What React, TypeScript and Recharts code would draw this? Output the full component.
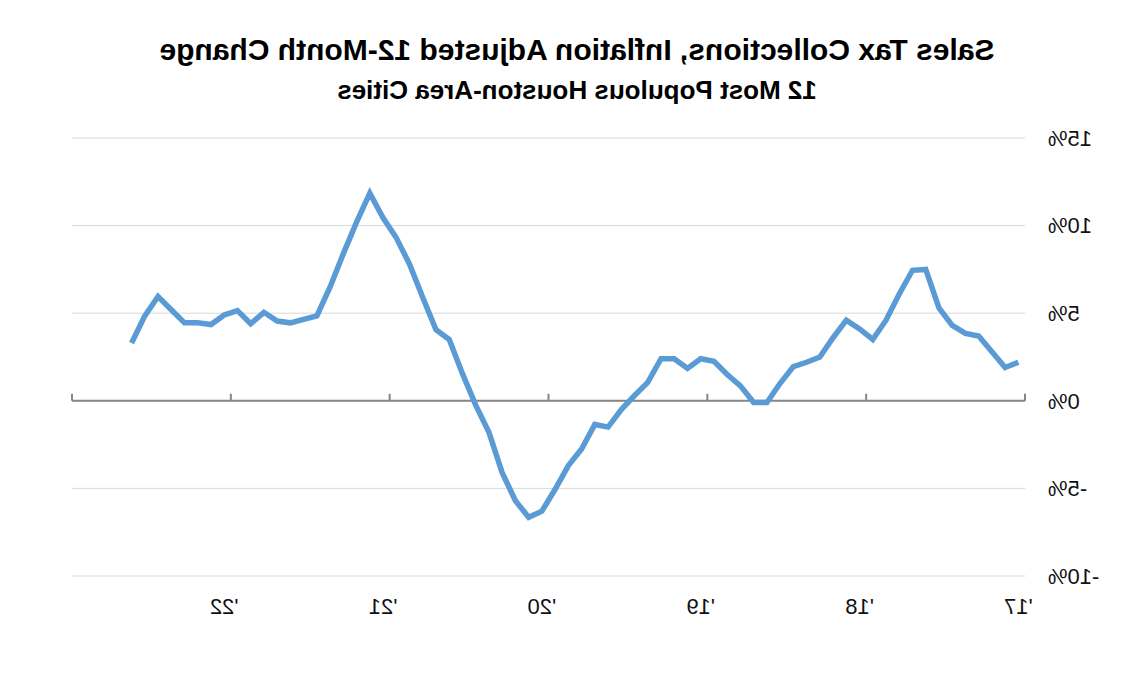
import { LineChart, Line, XAxis, YAxis, CartesianGrid, ReferenceLine } from 'recharts'

// monthly categories, Jan 2017 .. Dec 2022 (index 0..71)
const YEAR_LABELS = ["'17", "'18", "'19", "'20", "'21", "'22"]
const YEAR_STARTS = [0, 12, 24, 36, 48, 60]
const YEAR_BOUNDS = [-0.5, 11.5, 23.5, 35.5, 47.5, 59.5, 71.5]
const Y_TICKS = [-10, -5, 0, 5, 10, 15]

// 12-month change (%), Jan 2017 .. Aug 2022
const CHANGE = [
  2.2, 1.9, 2.8, 3.7, 3.85, 4.3, 5.3, 7.5, 7.45, 6.1, 4.6, 3.5,
  4.1, 4.6, 3.6, 2.5, 2.2, 1.95, 1.0, -0.1, -0.1, 0.85, 1.5, 2.25,
  2.4, 1.85, 2.4, 2.4, 1.05, 0.3, -0.5, -1.5, -1.35, -2.75, -3.7, -5.05,
  -6.3, -6.65, -5.7, -4.1, -1.8, -0.25, 1.55, 3.5, 4.05, 5.9, 7.8, 9.3,
  10.45, 11.85, 10.2, 8.4, 6.5, 4.85, 4.65, 4.45, 4.55, 5.05, 4.4, 5.15,
  4.9, 4.35, 4.45, 4.45, 5.2, 5.95, 4.85, 3.3,
]

const TITLE = 'Sales Tax Collections, Inflation Adjusted 12-Month Change'
const SUBTITLE = '12 Most Populous Houston-Area Cities'

const data = CHANGE.map((v, i) => ({ idx: i, change: v }))

const font = '"Liberation Sans", Arial, sans-serif'

export default function App() {
  return (
    // the reference is a mirror image, so the whole chart is flipped
    <div
      style={{
        position: 'absolute', left: 0, top: 0, width: 1139, height: 674,
        background: '#fff', transform: 'scaleX(-1)', fontFamily: font,
      }}
    >
      <div style={{
        position: 'absolute', left: 62, width: 1000, top: 33, textAlign: 'center',
        fontSize: 30, fontWeight: 'bold', lineHeight: '34px', color: '#000',
        whiteSpace: 'nowrap',
      }}>
        {TITLE}
      </div>
      <div style={{
        position: 'absolute', left: 62, width: 1000, top: 76, textAlign: 'center',
        fontSize: 26, fontWeight: 'bold', lineHeight: '29px', color: '#000',
        whiteSpace: 'nowrap',
      }}>
        {SUBTITLE}
      </div>
      <LineChart
        width={1139}
        height={674}
        data={data}
        margin={{ top: 138, right: 72, left: 0, bottom: 58 }}
        style={{ position: 'absolute', left: 0, top: 0 }}
      >
        <CartesianGrid stroke="#d9d9d9" vertical={false} />
        <XAxis
          dataKey="idx"
          type="number"
          domain={[-0.5, 71.5]}
          ticks={YEAR_STARTS}
          interval={0}
          tickFormatter={v => YEAR_LABELS[YEAR_STARTS.indexOf(v)] ?? ''}
          axisLine={false}
          tickLine={false}
          tickSize={0}
          tickMargin={22}
          height={40}
          tick={{ fill: '#111', fontSize: 22, fontFamily: font }}
        />
        <YAxis
          domain={[-10, 15]}
          ticks={Y_TICKS}
          interval={0}
          tickFormatter={v => `${v}%`}
          axisLine={false}
          tickLine={false}
          tickSize={0}
          tickMargin={23}
          width={114}
          tick={{ fill: '#111', fontSize: 22, fontFamily: font }}
        />
        <ReferenceLine y={0} stroke="#868686" strokeWidth={2} />
        {YEAR_BOUNDS.map(b => (
          <ReferenceLine
            key={b}
            segment={[{ x: b, y: 0 }, { x: b, y: 0.4 }]}
            stroke="#868686"
            strokeWidth={2}
          />
        ))}
        <Line
          type="linear"
          dataKey="change"
          stroke="#5b9bd5"
          strokeWidth={5.5}
          dot={false}
          activeDot={false}
          isAnimationActive={false}
        />
      </LineChart>
    </div>
  )
}
